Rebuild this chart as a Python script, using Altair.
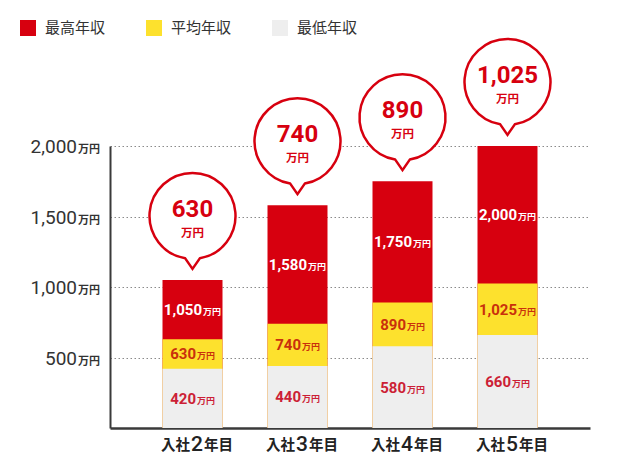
import altair as alt
import pandas as pd

# ---- data ----
years = ["入社2年目", "入社3年目", "入社4年目", "入社5年目"]
year_nums = ["2", "3", "4", "5"]
series = ["最高年収", "平均年収", "最低年収"]
max_pay = [1050, 1580, 1750, 2000]
avg_pay = [630, 740, 890, 1025]
min_pay = [420, 440, 580, 660]
y_ticks = [500, 1000, 1500, 2000]

RED = "#d7000f"
YEL = "#fde12d"
GRY = "#eeeeee"
DARK = "#333333"
W, H = 480, 282

rows = []
for i, yr in enumerate(years):
    vals = [max_pay[i], avg_pay[i], min_pay[i]]
    lows = [avg_pay[i], min_pay[i], 0]
    for s, v, lo in zip(series, vals, lows):
        rows.append({"year": yr, "series": s, "value": v, "mid": (v + lo) / 2})
seg = pd.DataFrame(rows)
top = pd.DataFrame({"year": years, "num": year_nums, "max": max_pay, "avg": avg_pay})
ticks = pd.DataFrame({"v": y_ticks})

X = alt.X("year:N", sort=years,
          scale=alt.Scale(paddingInner=0.4286, paddingOuter=0.5, align=0.5),
          axis=alt.Axis(title=None, labels=False, ticks=False,
                        domainColor="#3a3a3a", domainWidth=2.5, grid=False))
YSCALE = alt.Scale(domain=[0, 2000], nice=False)
YAXIS = alt.Axis(title=None, labels=False, ticks=False, values=y_ticks,
                 grid=True, gridDash=[1.5, 2.5], gridColor="#8a8a8a", gridWidth=1,
                 domainColor="#3a3a3a", domainWidth=2)

def Y(field):
    return alt.Y(field, scale=YSCALE, axis=YAXIS, stack=None)

bars = alt.Chart(seg).mark_bar().encode(
    x=X, y=Y("value:Q"),
    color=alt.Color("series:N", scale=alt.Scale(domain=series, range=[RED, YEL, GRY]),
                    legend=alt.Legend(title=None, orient="none", legendX=-90, legendY=-126,
                                      direction="horizontal", symbolType="square",
                                      symbolSize=256, symbolStrokeWidth=0, symbolOpacity=1,
                                      labelFont="Noto Sans CJK JP", labelFontSize=15,
                                      labelColor=DARK, labelOffset=9, columnPadding=40,
                                      padding=0)),
)

fill_expr = ("datum.series === '最高年収' ? '#ffffff' : "
             "(datum.series === '平均年収' ? '#c9300c' : '#cc1f36')")
num_dx = "length(format(datum.value, ',')) > 3 ? 9.5 : 3.5"

seg_num = alt.Chart(seg).mark_text(
    font="Roboto", fontWeight="bold", fontSize=15, align="right",
    baseline="alphabetic", dy=5.5, dx=alt.expr(num_dx), fill=alt.expr(fill_expr)
).encode(x=X, y=Y("mid:Q"), text=alt.Text("value:Q", format=","))

seg_unit = alt.Chart(seg).mark_text(
    font="Noto Sans CJK JP", fontWeight="bold", fontSize=9, align="left",
    baseline="alphabetic", dy=5.5, dx=alt.expr("(" + num_dx + ") + 1"),
    fill=alt.expr(fill_expr)
).encode(x=X, y=Y("mid:Q"), text=alt.value("万円"))

BUBBLE = "M 0.17 0.985 A 1 1 0 1 0 -0.17 0.985 L 0 1.23 Z"
bubble = alt.Chart(top).mark_point(
    shape=BUBBLE, size=86 * 86, filled=True, fill="white", stroke=RED,
    strokeWidth=2.5, opacity=1, yOffset=-64
).encode(x=X, y=Y("max:Q"))

bub_num = alt.Chart(top).mark_text(
    font="Roboto", fontWeight="bold", fontSize=24, fill=RED,
    baseline="alphabetic", dy=-63
).encode(x=X, y=Y("max:Q"), text=alt.Text("avg:Q", format=","))

bub_unit = alt.Chart(top).mark_text(
    font="Noto Sans CJK JP", fontWeight="bold", fontSize=11.5, fill=RED,
    baseline="alphabetic", dy=-43
).encode(x=X, y=Y("max:Q"), text=alt.value("万円"))

ylab_num = alt.Chart(ticks).mark_text(
    font="Roboto", fontSize=19, fill=DARK, align="right",
    baseline="alphabetic", dy=7
).encode(x=alt.value(-33), y=Y("v:Q"), text=alt.Text("v:Q", format=","))

ylab_unit = alt.Chart(ticks).mark_text(
    font="Noto Sans CJK JP", fontWeight="bold", fontSize=11, fill=DARK, align="left",
    baseline="alphabetic", dy=7
).encode(x=alt.value(-32), y=Y("v:Q"), text=alt.value("万円"))

xl_a = alt.Chart(top).mark_text(
    font="Noto Sans CJK JP", fontWeight="bold", fontSize=14.5, fill="#222222",
    align="right", baseline="alphabetic", dx=-2.5, dy=22
).encode(x=X, y=alt.value(H), text=alt.value("入社"))

xl_b = alt.Chart(top).mark_text(
    font="Roboto", fontWeight=500, fontSize=21, fill="#222222",
    align="center", baseline="alphabetic", dx=4.5, dy=23
).encode(x=X, y=alt.value(H), text="num:N")

xl_c = alt.Chart(top).mark_text(
    font="Noto Sans CJK JP", fontWeight="bold", fontSize=14.5, fill="#222222",
    align="left", baseline="alphabetic", dx=11.5, dy=22
).encode(x=X, y=alt.value(H), text=alt.value("年目"))

chart = alt.layer(
    bars, seg_num, seg_unit, bubble, bub_num, bub_unit,
    ylab_num, ylab_unit, xl_a, xl_b, xl_c
).properties(
    width=W, height=H,
    padding={"left": 102, "top": 138, "right": 20, "bottom": 36},
    autosize=alt.AutoSizeParams(type="none"),
    background="white",
).configure_view(stroke=None)

chart.save("out.html", embed_options={"renderer": "svg", "actions": False})
